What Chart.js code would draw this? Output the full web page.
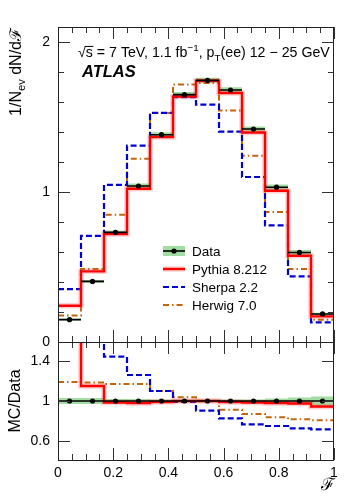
<!DOCTYPE html>
<html><head><meta charset="utf-8">
<script src="https://cdn.jsdelivr.net/npm/chart.js@4/dist/chart.umd.min.js"></script>
<style>
html,body{margin:0;padding:0;background:#fff;}
#wrap{position:relative;width:349px;height:500px;overflow:hidden;}
canvas{position:absolute;left:0;top:0;}
</style></head><body>
<div id="wrap"><canvas id="topc" width="349" height="500"></canvas><canvas id="ratioc" width="349" height="500"></canvas></div>
<script>
// ---- data ----
const binEdges    = [0, 0.08333, 0.16667, 0.25, 0.33333, 0.41667, 0.5, 0.58333, 0.66667, 0.75, 0.83333, 0.91667, 1];
const dataVals    = [0.149, 0.404, 0.731, 1.040, 1.382, 1.649, 1.744, 1.680, 1.420, 1.032, 0.597, 0.187];
const dataErr     = [0.006, 0.010, 0.013, 0.016, 0.017, 0.018, 0.018, 0.018, 0.017, 0.018, 0.016, 0.008];
const pythiaVals  = [0.242, 0.471, 0.720, 1.022, 1.367, 1.637, 1.742, 1.660, 1.397, 1.008, 0.575, 0.171];
const sherpaVals  = [0.353, 0.707, 1.047, 1.309, 1.527, 1.633, 1.582, 1.402, 1.100, 0.777, 0.437, 0.131];
const herwigVals  = [0.177, 0.487, 0.849, 1.222, 1.527, 1.717, 1.727, 1.544, 1.242, 0.867, 0.487, 0.149];
const dataRatio   = [1, 1, 1, 1, 1, 1, 1, 1, 1, 1, 1, 1];
const dataRelErr  = [0.030, 0.030, 0.020, 0.020, 0.015, 0.015, 0.015, 0.015, 0.015, 0.025, 0.035, 0.045];
const pythiaRatio = [1.62, 1.15, 0.985, 0.98, 0.99, 1.0, 1.0, 0.99, 0.985, 0.98, 0.975, 0.945];
const sherpaRatio = [2.37, 1.75, 1.443, 1.26, 1.10, 0.99, 0.903, 0.827, 0.767, 0.75, 0.727, 0.717];
const herwigRatio = [1.19, 1.185, 1.17, 1.17, 1.10, 1.037, 1.0, 0.913, 0.87, 0.837, 0.817, 0.807];
const seriesNames = ['Data', 'Pythia 8.212', 'Sherpa 2.2', 'Herwig 7.0'];
const xTickValues = [0, 0.05, 0.1, 0.15, 0.2, 0.25, 0.3, 0.35, 0.4, 0.45, 0.5, 0.55, 0.6, 0.65, 0.7, 0.75, 0.8, 0.85, 0.9, 0.95, 1];
const xTickLabels = ['0', '', '', '', '0.2', '', '', '', '0.4', '', '', '', '0.6', '', '', '', '0.8', '', '', '', '1'];
const topYTicks   = [0, 0.2, 0.4, 0.6, 0.8, 1, 1.2, 1.4, 1.6, 1.8, 2];
const topYLabels  = ['0', '', '', '', '', '1', '', '', '', '', '2'];
const ratioYTicks = [0.6, 1, 1.4];
const ratioYLabels= ['0.6', '1', '1.4'];

// ---- styles ----
const FONT = "'Liberation Sans', Arial, Helvetica, sans-serif";
const C_BAND = '#a3dda3';
const C_PY = '#ff0000', C_PYB = 'rgba(255,70,70,0.25)';
const C_SH = '#0000d2', C_HW = '#c2650e';
const D_SH = [6, 3], D_HW = [6, 3, 1.5, 3];

function stepLine(vals) {
  const pts = [];
  vals.forEach((v, i) => { pts.push({x: binEdges[i], y: v}); pts.push({x: binEdges[i + 1], y: v}); });
  return pts;
}
function segLine(vals) {
  const pts = [];
  vals.forEach((v, i) => { pts.push({x: binEdges[i], y: v}, {x: binEdges[i + 1], y: v}, {x: binEdges[i + 1], y: null}); });
  return pts;
}
function centers(vals) { return vals.map((v, i) => ({x: (binEdges[i] + binEdges[i + 1]) / 2, y: v})); }

function lineDs(pts, color, width, dash, order, extra) {
  return Object.assign({data: pts, borderColor: color, borderWidth: width, borderDash: dash || [],
    pointRadius: 0, fill: false, tension: 0, order: order, clip: 0, spanGaps: false,
    borderJoinStyle: 'miter', borderCapStyle: 'butt'}, extra || {});
}

function buildDatasets(dv, lo, hi, py, sh, hw, segmented) {
  return [
    lineDs(stepLine(lo), 'rgba(0,0,0,0)', 0, null, 20),
    lineDs(stepLine(hi), 'rgba(0,0,0,0)', 0, null, 19, {fill: '-1', backgroundColor: C_BAND}),
    lineDs(stepLine(hw), C_HW, 2, D_HW, 8),
    lineDs(stepLine(sh), C_SH, 2.2, D_SH, 7),
    lineDs(stepLine(py), C_PYB, 5.5, null, 6),
    lineDs(stepLine(py), C_PY, 2.4, null, 5),
    lineDs(segmented ? segLine(dv) : stepLine(dv), '#000', 1.6, null, 2),
    {data: centers(dv), showLine: false, pointRadius: 2.6, pointBackgroundColor: '#000', pointBorderWidth: 0, order: 1, clip: 0}
  ];
}

function drawFrame(chart, yVals, yMajor) {
  const {ctx, chartArea: a, scales: {x, y}} = chart;
  ctx.save();
  ctx.strokeStyle = '#333'; ctx.lineWidth = 1;
  ctx.beginPath();
  xTickValues.forEach((v, i) => {
    const px = Math.round(x.getPixelForValue(v)) + 0.5;
    const L = xTickLabels[i] !== '' ? 12 : 6;
    ctx.moveTo(px, a.top); ctx.lineTo(px, a.top + L);
    ctx.moveTo(px, a.bottom); ctx.lineTo(px, a.bottom - L);
  });
  yVals.forEach((v, i) => {
    const py = Math.round(y.getPixelForValue(v)) + 0.5;
    const L = yMajor[i] ? 12 : 6;
    ctx.moveTo(a.left, py); ctx.lineTo(a.left + L, py);
    ctx.moveTo(a.right, py); ctx.lineTo(a.right - L, py);
  });
  ctx.stroke();
  ctx.strokeStyle = '#222';
  ctx.strokeRect(a.left + 0.5, a.top + 0.5, a.right - a.left - 1, a.bottom - a.top);
  ctx.restore();
}

// rich text: pieces = [text, scale, dyEm]
function rich(ctx, pieces, x, y, size, weightStyle, align) {
  let total = 0; const ws = [];
  pieces.forEach(p => { ctx.font = `${weightStyle || ''} ${size * p[1]}px ${FONT}`; const w = ctx.measureText(p[0]).width; ws.push(w); total += w; });
  let cx = align === 'right' ? x - total : (align === 'center' ? x - total / 2 : x);
  const pos = [];
  pieces.forEach((p, i) => {
    ctx.font = `${weightStyle || ''} ${size * p[1]}px ${FONT}`;
    ctx.fillText(p[0], cx, y + p[2] * size);
    pos.push(cx); cx += ws[i];
  });
  return {pos, ws, total};
}

const topPlugin = {
  id: 'topdeco',
  afterDraw(chart) {
    drawFrame(chart, topYTicks, topYLabels.map(l => l !== ''));
    const ctx = chart.ctx;
    ctx.save();
    ctx.fillStyle = '#000'; ctx.textBaseline = 'alphabetic'; ctx.textAlign = 'left';
    // y title
    ctx.save();
    ctx.translate(21, 28); ctx.rotate(-Math.PI / 2);
    rich(ctx, [['1/N', 1, 0], ['ev', 0.7, 0.22], [' dN/d\u2131', 1, 0]], 0, 0, 16, '', 'right');
    ctx.restore();
    // annotation
    const s = 14.2, by = 57;
    const r = rich(ctx, [['\u221A', 1, 0], ['s', 1, 0], [' = 7 TeV, 1.1 fb', 1, 0], ['\u22121', 0.7, -0.42], [', p', 1, 0], ['T', 0.7, 0.25], ['(ee) 12 \u2212 25 GeV', 1, 0]], 78, by, s, '', 'left');
    ctx.strokeStyle = '#000'; ctx.lineWidth = 1;
    ctx.beginPath(); ctx.moveTo(r.pos[1] - 1, by - 0.78 * s + 0.5); ctx.lineTo(r.pos[1] + r.ws[1] + 0.5, by - 0.78 * s + 0.5); ctx.stroke();
    // ATLAS
    ctx.font = `italic bold 16.5px ${FONT}`;
    ctx.fillText('ATLAS', 82, 77);
    // legend
    const lx0 = 163, lx1 = 185, tx = 192, rows = [251, 269, 287, 305];
    ctx.fillStyle = C_BAND; ctx.fillRect(lx0, rows[0] - 5, lx1 - lx0, 10);
    ctx.strokeStyle = '#000'; ctx.lineWidth = 1.6; ctx.beginPath(); ctx.moveTo(lx0, rows[0]); ctx.lineTo(lx1, rows[0]); ctx.stroke();
    ctx.fillStyle = '#000'; ctx.beginPath(); ctx.arc((lx0 + lx1) / 2, rows[0], 2.6, 0, 2 * Math.PI); ctx.fill();
    ctx.strokeStyle = C_PYB; ctx.lineWidth = 5.5; ctx.beginPath(); ctx.moveTo(lx0, rows[1]); ctx.lineTo(lx1, rows[1]); ctx.stroke();
    ctx.strokeStyle = C_PY; ctx.lineWidth = 2.4; ctx.beginPath(); ctx.moveTo(lx0, rows[1]); ctx.lineTo(lx1, rows[1]); ctx.stroke();
    ctx.setLineDash(D_SH); ctx.strokeStyle = C_SH; ctx.lineWidth = 2.2; ctx.beginPath(); ctx.moveTo(lx0, rows[2]); ctx.lineTo(lx1, rows[2]); ctx.stroke();
    ctx.setLineDash(D_HW); ctx.strokeStyle = C_HW; ctx.lineWidth = 2; ctx.beginPath(); ctx.moveTo(lx0, rows[3]); ctx.lineTo(lx1, rows[3]); ctx.stroke();
    ctx.setLineDash([]);
    ctx.fillStyle = '#000'; ctx.font = `13.5px ${FONT}`; ctx.textBaseline = 'middle';
    seriesNames.forEach((n, i) => ctx.fillText(n, tx, rows[i] + 1));
    ctx.restore();
  }
};

const ratioPlugin = {
  id: 'ratiodeco',
  afterDraw(chart) {
    drawFrame(chart, ratioYTicks, ratioYTicks.map(() => true));
    const ctx = chart.ctx;
    ctx.save();
    ctx.fillStyle = '#000'; ctx.textBaseline = 'middle';
    ctx.save(); ctx.translate(16, 401); ctx.rotate(-Math.PI / 2);
    ctx.textAlign = 'center'; ctx.font = `16px ${FONT}`; ctx.fillText('MC/Data', 0, 0);
    ctx.restore();
    ctx.textAlign = 'right'; ctx.font = `17px ${FONT}`; ctx.fillText('\u2131', 335, 485);
    ctx.restore();
  }
};

function labelFrom(vals, labels) {
  return (v) => { const i = vals.findIndex(t => Math.abs(t - v) < 1e-6); return i >= 0 ? labels[i] : ''; };
}

const common = {
  responsive: false, animation: false, devicePixelRatio: 1, events: [],
  plugins: {legend: {display: false}, tooltip: {enabled: false}},
};

new Chart(document.getElementById('topc'), {
  type: 'line',
  data: {datasets: buildDatasets(dataVals, dataVals.map((v, i) => v - dataErr[i]), dataVals.map((v, i) => v + dataErr[i]), pythiaVals, sherpaVals, herwigVals, true)},
  options: Object.assign({}, common, {
    layout: {padding: {left: 0, right: 15, top: 27, bottom: 158}},
    scales: {
      x: {type: 'linear', min: 0, max: 1, display: false},
      y: {type: 'linear', min: 0, max: 2.1,
        afterFit(s) { s.width = 58; },
        afterBuildTicks(s) { s.ticks = topYTicks.map(v => ({value: v})); },
        ticks: {callback: labelFrom(topYTicks, topYLabels), padding: 8, color: '#000', autoSkip: false, font: {family: FONT, size: 14}},
        grid: {display: false, drawTicks: false}, border: {display: false}}
    }
  }),
  plugins: [topPlugin]
});

new Chart(document.getElementById('ratioc'), {
  type: 'line',
  data: {datasets: buildDatasets(dataRatio, dataRatio.map((v, i) => v - dataRelErr[i]), dataRatio.map((v, i) => v + dataRelErr[i]), pythiaRatio, sherpaRatio, herwigRatio, false)},
  options: Object.assign({}, common, {
    layout: {padding: {left: 0, right: 15, top: 342, bottom: 0}},
    scales: {
      x: {type: 'linear', min: 0, max: 1,
        afterFit(s) { s.height = 40; },
        afterBuildTicks(s) { s.ticks = xTickValues.map(v => ({value: v})); },
        ticks: {callback: labelFrom(xTickValues, xTickLabels), padding: 5, color: '#000', autoSkip: false, maxRotation: 0, font: {family: FONT, size: 14}},
        grid: {display: false, drawTicks: false}, border: {display: false}},
      y: {type: 'linear', min: 0.41, max: 1.59,
        afterFit(s) { s.width = 58; },
        afterBuildTicks(s) { s.ticks = ratioYTicks.map(v => ({value: v})); },
        ticks: {callback: labelFrom(ratioYTicks, ratioYLabels), padding: 8, color: '#000', autoSkip: false, font: {family: FONT, size: 14}},
        grid: {display: false, drawTicks: false}, border: {display: false}}
    }
  }),
  plugins: [ratioPlugin]
});
</script>
</body></html>
